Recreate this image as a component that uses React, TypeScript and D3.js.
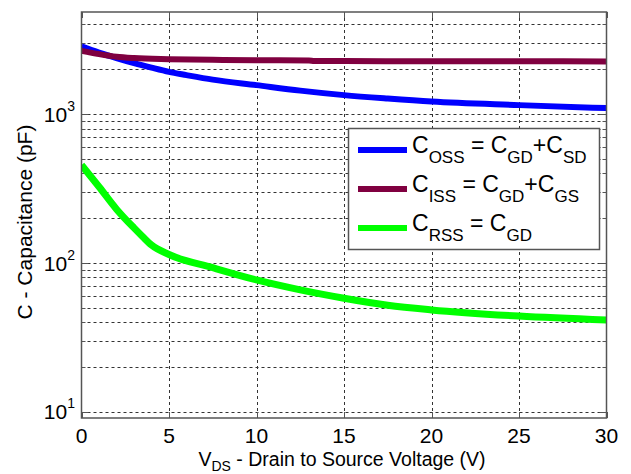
import { useRef, useEffect } from 'react'
import * as d3 from 'd3'

// values, capacitance in pF vs V_DS in volts
const cossVds = [0, 1, 2, 3, 4, 5, 6, 7.5, 10, 12.5, 15, 17.5, 20, 25, 30]
const cossPf = [2850, 2590, 2380, 2200, 2050, 1920, 1827, 1704, 1565, 1438, 1341, 1271, 1213, 1149, 1097]

const cissVds = [0, 1, 2, 3, 5, 7.5, 10, 13, 13.3, 15, 20, 25, 30]
const cissPf = [2660, 2530, 2430, 2380, 2340, 2315, 2300, 2290, 2270, 2270, 2265, 2262, 2260]

const crssVds = [0, 1, 2, 3, 3.5, 4, 5, 7.5, 10, 12.5, 15, 17.5, 20, 25, 30]
const crssPf = [455, 325, 230, 172, 150, 132, 114, 93, 77, 66, 58, 52, 48.4, 44, 41.4]

const xTicks = [0, 5, 10, 15, 20, 25, 30]
const yDecades = [10, 100, 1000]
const yGrid = [10, 20, 30, 40, 50, 60, 70, 80, 90, 100, 200, 300, 400, 500, 600, 700, 800, 900, 1000, 2000, 3000, 4000]

const series = [
	{ name: 'oss', vds: cossVds, pf: cossPf, color: '#0000ff', width: 6 },
	{ name: 'iss', vds: cissVds, pf: cissPf, color: '#800040', width: 6 },
	{ name: 'rss', vds: crssVds, pf: crssPf, color: '#00ff00', width: 7 },
]

const legendRows = [
	{ color: '#0000ff', parts: ['C', 'OSS', ' = C', 'GD', '+C', 'SD'] },
	{ color: '#800040', parts: ['C', 'ISS', ' = C', 'GD', '+C', 'GS'] },
	{ color: '#00ff00', parts: ['C', 'RSS', ' = C', 'GD'] },
]

export default function App() {
	const ref = useRef<SVGSVGElement>(null)

	useEffect(() => {
		const svg = d3.select(ref.current)
		svg.selectAll('*').remove()

		const left = 81.5,
			right = 606.5,
			top = 12,
			bottom = 418
		const x = d3.scaleLinear().domain([0, 30]).range([left, right])
		const y = d3.scaleLog().domain([9.1, 4850]).range([bottom, top])
		const font = 'Liberation Sans, Arial, sans-serif'

		svg.append('rect').attr('x', 0).attr('y', 0).attr('width', 631).attr('height', 474).style('fill', '#fff')

		// grid
		const grid = svg.append('g').style('stroke', '#333').style('stroke-width', 1).style('stroke-dasharray', '3,3')
		grid
			.selectAll('line.h')
			.data(yGrid)
			.join('line')
			.attr('class', 'h')
			.attr('x1', left)
			.attr('x2', right)
			.attr('y1', (d) => Math.round(y(d)) + 0.5)
			.attr('y2', (d) => Math.round(y(d)) + 0.5)
		grid
			.selectAll('line.v')
			.data(xTicks.slice(1, -1))
			.join('line')
			.attr('class', 'v')
			.attr('x1', (d) => Math.round(x(d)) + 0.5)
			.attr('x2', (d) => Math.round(x(d)) + 0.5)
			.attr('y1', top)
			.attr('y2', bottom)

		// tick marks on all four sides
		const ticks = svg.append('g').style('stroke', '#555').style('stroke-width', 1)
		yGrid.forEach((d) => {
			const len = yDecades.includes(d) ? 7 : 4
			const yy = Math.round(y(d)) + 0.5
			ticks.append('line').attr('x1', left).attr('x2', left + len).attr('y1', yy).attr('y2', yy)
			ticks.append('line').attr('x1', right - len).attr('x2', right).attr('y1', yy).attr('y2', yy)
		})
		xTicks.forEach((d) => {
			const xx = Math.round(x(d)) + 0.5
			ticks.append('line').attr('x1', xx).attr('x2', xx).attr('y1', bottom).attr('y2', bottom - 6)
			ticks.append('line').attr('x1', xx).attr('x2', xx).attr('y1', top).attr('y2', top + 6)
		})

		// curves
		const clip = svg.append('clipPath').attr('id', 'plotclip')
		clip.append('rect').attr('x', left).attr('y', top).attr('width', right - left).attr('height', bottom - top)
		const line = d3
			.line<[number, number]>()
			.x((d) => x(d[0]))
			.y((d) => y(d[1]))
			.curve(d3.curveMonotoneX)
		const curves = svg.append('g').attr('clip-path', 'url(#plotclip)')
		series.forEach((s) => {
			const pts = s.vds.map((v, i) => [v, s.pf[i]] as [number, number])
			curves
				.append('path')
				.attr('d', line(pts))
				.style('fill', 'none')
				.style('stroke', s.color)
				.style('stroke-width', s.width)
		})

		// box
		svg
			.append('rect')
			.attr('x', left)
			.attr('y', top)
			.attr('width', right - left)
			.attr('height', bottom - top)
			.style('fill', 'none')
			.style('stroke', '#555')
			.style('stroke-width', 1.5)

		// x tick labels
		svg
			.append('g')
			.selectAll('text')
			.data(xTicks)
			.join('text')
			.attr('x', (d) => x(d))
			.attr('y', 443)
			.attr('text-anchor', 'middle')
			.style('font-family', font)
			.style('font-size', '21px')
			.style('fill', '#000')
			.text((d) => d)

		// y tick labels 10^n
		const yl = svg
			.append('g')
			.selectAll('text')
			.data(yDecades)
			.join('text')
			.attr('x', 75)
			.attr('y', (d) => y(d) + 7.5)
			.attr('text-anchor', 'end')
			.style('font-family', font)
			.style('font-size', '21px')
			.style('fill', '#000')
		yl.append('tspan').text('10')
		yl.append('tspan')
			.attr('dy', -11)
			.style('font-size', '14px')
			.text((d) => Math.round(Math.log10(d)))

		// axis titles
		const xt = svg
			.append('text')
			.attr('x', 342)
			.attr('y', 466)
			.attr('text-anchor', 'middle')
			.style('font-family', font)
			.style('font-size', '19.5px')
			.style('fill', '#000')
		xt.append('tspan').text('V')
		xt.append('tspan').attr('dy', 5).style('font-size', '14px').text('DS')
		xt.append('tspan').attr('dy', -5).text(' - Drain to Source Voltage (V)')

		svg
			.append('text')
			.attr('transform', `translate(32,222) rotate(-90)`)
			.attr('text-anchor', 'middle')
			.style('font-family', font)
			.style('font-size', '21px')
			.style('fill', '#000')
			.text('C - Capacitance (pF)')

		// legend
		const lg = svg.append('g')
		lg.append('rect')
			.attr('x', 348.5)
			.attr('y', 128.5)
			.attr('width', 251)
			.attr('height', 121)
			.style('fill', '#fff')
			.style('stroke', '#555')
			.style('stroke-width', 1.5)
		legendRows.forEach((row, i) => {
			const cy = 150 + i * 39
			lg.append('line')
				.attr('x1', 358)
				.attr('x2', 407)
				.attr('y1', cy)
				.attr('y2', cy)
				.style('stroke', row.color)
				.style('stroke-width', 6)
			const t = lg
				.append('text')
				.attr('x', 412)
				.attr('y', cy + 3)
				.style('font-family', font)
				.style('font-size', '23px')
				.style('fill', '#000')
			row.parts.forEach((p, j) => {
				const sub = j % 2 == 1
				t.append('tspan')
					.attr('dy', j == 0 ? 0 : sub ? 10 : -10)
					.style('font-size', sub ? '17px' : '23px')
					.text(p)
			})
		})
	}, [])

	return (
		<div>
			<svg ref={ref} width={631} height={474} style={{ position: 'absolute', left: 0, top: 0 }}></svg>
		</div>
	)
}
